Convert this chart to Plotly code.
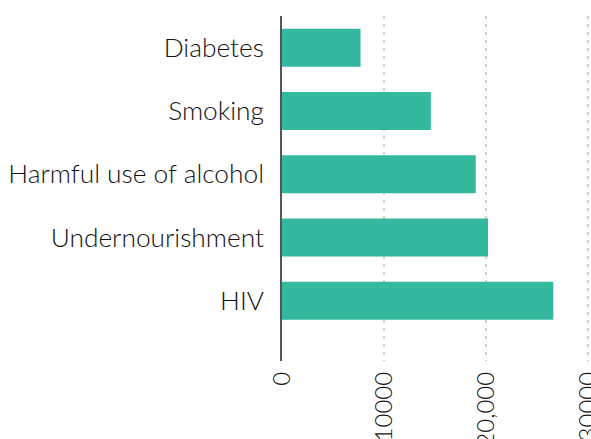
import plotly.graph_objects as go

categories = ["Diabetes", "Smoking", "Harmful use of alcohol", "Undernourishment", "HIV"]
values = [7700, 14600, 19000, 20200, 26600]
tick_vals = [0, 10000, 20000, 30000]
tick_text = ["0", "10000", "20,000", "30000"]

fig = go.Figure(go.Bar(
    x=values, y=categories, orientation="h",
    marker=dict(color="#35b99e", line=dict(width=0)),
    width=0.6,
))

yfont = dict(family="Lato, sans-serif", size=26.3, color="#111", weight=300)
xfont = dict(family="Lato, sans-serif", size=24, color="#111", weight=300)

fig.update_layout(
    width=591, height=439,
    margin=dict(l=282, r=0, t=16, b=78),
    paper_bgcolor="white", plot_bgcolor="white",
    font=yfont,
    showlegend=False,
)
fig.update_xaxes(
    range=[0, 30300], tickvals=tick_vals, ticktext=tick_text,
    tickangle=-90, showgrid=True, gridcolor="#d0d0d0", griddash="3px,5px", gridwidth=1.5,
    zeroline=False, showline=False, ticks="", ticklabelstandoff=5,
    ticklabeloverflow="allow",
    automargin=False, tickfont=xfont,
)
fig.update_yaxes(
    type="category", range=[4.95, -0.5],
    showline=True, linecolor="#555555", linewidth=1.5,
    showgrid=False, ticks="", ticklabelstandoff=11,
    automargin=False, tickfont=yfont,
)

fig.write_html("out.html", config={"displayModeBar": False},
               post_script="document.body.style.margin='0';document.body.style.overflow='hidden';")
